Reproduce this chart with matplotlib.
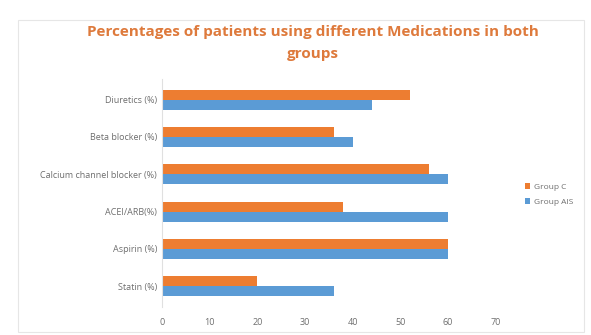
import matplotlib.pyplot as plt
import numpy as np
from matplotlib.patches import Rectangle

# Data (bottom to top)
categories = ['Statin (%)', 'Aspirin (%)', 'ACEI/ARB(%)',
              'Calcium channel blocker (%)', 'Beta blocker (%)', 'Diuretics (%)']
group_c = [20, 60, 38, 56, 36, 52]
group_ais = [36, 60, 60, 60, 40, 44]
x_ticks = [0, 10, 20, 30, 40, 50, 60, 70]

orange = '#ED7D31'
blue = '#5B9BD5'
plt.rcParams['font.family'] = ['Open Sans', 'DejaVu Sans']

fig = plt.figure(figsize=(5.91, 3.35), dpi=100)
fig.patches.append(Rectangle((0.03, 0.01), 0.958, 0.93, transform=fig.transFigure,
                             fill=False, edgecolor='#E6E6E6', linewidth=0.8))
ax = fig.add_axes([0.274, 0.084, 0.565, 0.68])

y = np.arange(len(categories))
h = 0.27
ax.barh(y + h / 2, group_c, height=h, color=orange, label='Group C')
ax.barh(y - h / 2, group_ais, height=h, color=blue, label='Group AIS')

ax.set_xlim(0, 70)
ax.set_ylim(-0.55, len(categories) - 0.45)
ax.set_xticks(x_ticks)
ax.set_yticks(y)
ax.set_yticklabels(categories)
ax.tick_params(axis='both', length=0, labelsize=6.5, colors='#6E6E6E')
ax.tick_params(axis='x', pad=8)
for s in ['top', 'right', 'bottom']:
    ax.spines[s].set_visible(False)
ax.spines['left'].set_color('#E0E0E0')
ax.spines['left'].set_linewidth(0.8)

title_color = '#DE7A3C'
fig.text(0.53, 0.905, 'Percentages of patients using different Medications in both',
         ha='center', va='center', fontsize=11, fontweight='bold', color=title_color)
fig.text(0.53, 0.84, 'groups', ha='center', va='center', fontsize=11,
         fontweight='bold', color=title_color)

handles, labels = ax.get_legend_handles_labels()
leg = fig.legend(handles, labels, loc='center left', bbox_to_anchor=(0.875, 0.42),
                 frameon=False, fontsize=6, handlelength=0.7, handleheight=0.7,
                 handletextpad=0.4, labelspacing=0.9)
for t in leg.get_texts():
    t.set_color('#6E6E6E')

fig.savefig('out.png', dpi=100)
